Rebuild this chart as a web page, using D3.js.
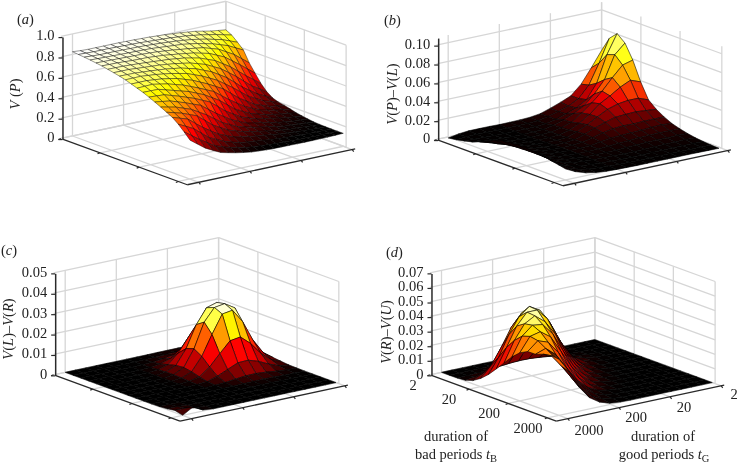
<!DOCTYPE html>
<html><head><meta charset="utf-8">
<script src="https://cdn.jsdelivr.net/npm/d3@7/dist/d3.min.js"></script>
<style>html,body{margin:0;padding:0;background:#fff}svg{display:block;font-family:"Liberation Serif",serif;filter:blur(.3px)}</style>
</head><body><svg id="c" width="738" height="466"></svg>
<script>
const tickDurations=[2,20,200,2000];
const grid21=[2,2.83,3.99,5.64,7.96,11.2,15.9,22.4,31.7,44.8,63.2,89.3,126,178,252,356,502,710,1002,1416,2000];
const grid16=[2,3.17,5.02,7.96,12.6,20,31.7,50.2,79.6,126,200,317,502,796,1262,2000];
const ticksA=[0,.2,.4,.6,.8,1];
const ticksB=[0,.02,.04,.06,.08,.1];
const ticksC=[0,.01,.02,.03,.04,.05];
const ticksD=[0,.01,.02,.03,.04,.05,.06,.07];
// V(P): one line per t_G (2 to 2000), values across t_B (2 to 2000)
const valuesA=[
[.74,.71,.66,.605,.50,.42,.34,.28,.24,.22,.21,.195,.18,.17,.16,.153,.15,.148,.147,.147,.147],
[.75,.728,.689,.642,.558,.478,.395,.326,.276,.243,.221,.205,.19,.177,.166,.158,.154,.15,.148,.146,.144],
[.76,.747,.718,.68,.615,.536,.45,.371,.312,.265,.232,.216,.199,.183,.172,.164,.158,.153,.149,.146,.142],
[.775,.761,.736,.705,.656,.59,.509,.432,.362,.305,.259,.232,.212,.197,.182,.17,.162,.156,.15,.146,.141],
[.79,.776,.755,.73,.698,.643,.568,.494,.412,.344,.286,.249,.225,.211,.191,.175,.167,.16,.152,.146,.14],
[.798,.786,.769,.747,.721,.676,.614,.548,.474,.402,.333,.283,.247,.224,.205,.189,.176,.166,.156,.148,.14],
[.807,.797,.783,.765,.745,.71,.661,.602,.536,.46,.38,.317,.269,.237,.22,.203,.185,.173,.16,.15,.14],
[.813,.803,.791,.777,.756,.728,.689,.639,.581,.511,.44,.366,.306,.262,.234,.215,.197,.183,.166,.152,.141],
[.82,.81,.80,.789,.767,.746,.718,.676,.626,.563,.50,.415,.344,.288,.249,.228,.21,.193,.172,.155,.142],
[.824,.814,.805,.794,.776,.757,.734,.699,.656,.60,.54,.471,.402,.333,.281,.248,.224,.202,.18,.16,.143],
[.829,.818,.811,.80,.786,.768,.75,.722,.687,.637,.58,.527,.46,.378,.314,.268,.239,.212,.188,.165,.145],
[.831,.822,.815,.806,.793,.777,.759,.735,.706,.665,.614,.56,.504,.438,.361,.304,.263,.226,.196,.171,.15],
[.834,.826,.819,.812,.801,.787,.769,.748,.726,.694,.648,.594,.548,.498,.408,.34,.287,.24,.205,.178,.155],
[.835,.828,.821,.814,.805,.792,.774,.757,.737,.71,.673,.624,.58,.531,.463,.393,.328,.27,.227,.194,.167],
[.837,.83,.823,.816,.809,.798,.78,.766,.748,.726,.698,.655,.612,.565,.519,.447,.369,.30,.25,.21,.18],
[.837,.832,.824,.817,.81,.799,.785,.771,.755,.737,.712,.676,.633,.592,.547,.49,.43,.348,.285,.235,.197],
[.837,.834,.826,.819,.812,.801,.79,.776,.762,.748,.726,.698,.655,.619,.576,.533,.49,.397,.32,.26,.215],
[.837,.834,.826,.821,.814,.805,.794,.781,.767,.755,.733,.712,.676,.642,.601,.56,.519,.454,.38,.307,.252],
[.837,.834,.826,.823,.816,.809,.798,.787,.773,.762,.741,.726,.698,.666,.626,.587,.548,.512,.44,.355,.29],
[.84,.837,.83,.825,.818,.81,.799,.787,.774,.761,.74,.723,.699,.67,.637,.603,.569,.536,.477,.407,.345],
[.846,.84,.835,.828,.82,.812,.80,.788,.775,.76,.74,.72,.70,.675,.648,.62,.59,.56,.515,.46,.40]];
// the next three: one line per t_B (2 to 2000), values across t_G (2000 down to 2)
const valuesB=[
[0,.002,.003,.003,.003,.0027,.0028,.003,.0035,.005,.0085,.0125,.017,.027,.042,.058],
[.0012,.002,.0023,.0021,.0021,.0021,.0021,.0023,.0028,.005,.008,.0115,.017,.029,.05,.074],
[.003,.0025,.0022,.0018,.0015,.0016,.0017,.0019,.0026,.005,.0085,.0125,.019,.034,.062,.082],
[.005,.0034,.0025,.0018,.0014,.0014,.0016,.002,.0042,.0075,.012,.018,.028,.041,.065,.075],
[.008,.0049,.0031,.002,.0017,.0015,.0018,.0023,.0046,.008,.0155,.024,.034,.046,.057,.06],
[.012,.0068,.004,.0023,.0017,.0014,.0017,.0023,.005,.010,.017,.026,.032,.039,.044,.04],
[.016,.0091,.0053,.003,.0023,.0019,.0021,.0027,.0063,.0115,.0174,.0232,.0265,.028,.028,.024],
[.018,.0103,.0059,.0034,.0026,.0021,.0024,.0033,.0068,.011,.0148,.0178,.0185,.019,.018,.017],
[.019,.0108,.0063,.0036,.0028,.0023,.0027,.0036,.0062,.009,.011,.0118,.0115,.012,.012,.012],
[.0195,.0111,.0064,.0037,.0029,.0024,.0027,.003,.0049,.0063,.0069,.0074,.0078,.0085,.009,.008],
[.0195,.0111,.0064,.0037,.0029,.0023,.0022,.0025,.0032,.0039,.0044,.0051,.0055,.0058,.0056,.0055],
[.019,.0108,.0063,.0036,.0027,.0021,.0019,.002,.002,.0025,.003,.0034,.0037,.0034,.004,.0035],
[.018,.0103,.0059,.0034,.0025,.0018,.0016,.0014,.001,.0012,.0015,.0017,.002,.0022,.0024,.002],
[.016,.0091,.0053,.003,.0021,.0015,.0012,.0009,.0007,.0008,.001,.0011,.0013,.0013,.0014,.001],
[.0145,.0083,.0048,.0028,.0018,.0012,.0009,.0006,.0005,.0006,.0007,.0007,.0007,.0007,.0006,.0004],
[.0127,.0075,.004,.0022,.0012,.0007,.0005,.0003,.0003,.0003,.0003,.0003,.0003,.0002,.0001,0]];
const valuesC=[
[0,0,0,0,0,0,0,0,0,.0001,.0001,.0001,.0001,0,0,0],
[0,0,0,0,0,0,0,.0001,.0002,.0004,.0006,.0006,.0004,.0002,.0001,0],
[0,0,0,0,0,0,.0001,.0003,.0008,.0016,.0024,.0025,.0019,.001,.0004,.0001],
[0,0,0,0,0,0,.0002,.0008,.0024,.006,.0089,.0094,.007,.0037,.0012,.0003],
[0,0,0,0,0,.0001,.0005,.0019,.0065,.0133,.0196,.0205,.0155,.0083,.0032,.0007],
[0,0,0,0,0,.0001,.0007,.0029,.0101,.0208,.028,.0295,.0242,.013,.005,.0011],
[0,0,0,0,0,.0001,.0008,.0033,.0114,.0234,.0295,.0303,.0272,.0146,.0058,.0013],
[0,0,0,0,0,.0001,.0006,.0026,.0091,.0188,.0277,.0285,.0218,.0118,.0046,.001],
[0,0,0,0,0,.0001,.0004,.0015,.0053,.0108,.016,.0168,.0126,.0067,.0026,.0006],
[0,0,0,0,0,0,.0002,.0006,.0022,.0044,.0066,.0068,.0052,.0028,.0009,.0002],
[0,0,0,0,0,0,0,.0002,.0005,.0011,.0016,.0017,.0013,.0007,.0003,.0001],
[0,0,0,0,0,0,0,0,.0001,.0002,.0003,.0004,.0003,.0001,.0001,0],
[.0001,.0001,0,0,0,0,0,0,0,0,.0001,.0001,0,0,0,0],
[.0004,.0004,.0001,0,0,0,0,0,0,0,0,0,0,0,0,0],
[.001,.001,.0002,0,0,0,0,0,0,0,0,0,0,0,0,0],
[0,.003,.0005,0,0,0,0,0,0,0,0,0,0,0,0,0]];
const valuesD=[
[0,0,0,0,0,0,0,0,0,0,0,0,0,0,0,0],
[0,0,0,.0001,.0002,.0004,.0005,.0005,.0005,.0003,.0001,0,0,0,0,0],
[.0001,.0002,.0005,.001,.0017,.0024,.0028,.0028,.0022,.0014,.0008,.0004,.0001,0,0,0],
[.0005,.0014,.0032,.0061,.0097,.0125,.0133,.0115,.0083,.0048,.0023,.001,.0003,.0001,0,0],
[.0022,.0056,.0116,.0199,.0279,.0321,.0304,.0236,.0151,.0079,.0033,.0012,.0004,.0001,0,0],
[.0056,.0128,.0238,.0363,.0445,.0455,.0397,.0276,.0157,.0073,.0029,.001,.0002,0,0,0],
[.0103,.0207,.0346,.0455,.051,.047,.037,.0229,.0117,.0048,.0016,.0005,.0001,0,0,0],
[.0161,.0293,.0425,.0505,.0505,.043,.0293,.0162,.0074,.0028,.0009,.0002,0,0,0,0],
[.0222,.0361,.046,.05,.0445,.0345,.0207,.0103,.0042,.0014,.0004,.0001,0,0,0,0],
[.0283,.041,.047,.046,.038,.025,.0133,.0059,.0022,.0007,.0002,0,0,0,0,0],
[.0331,.0428,.0445,.0395,.0283,.0166,.008,.0031,.001,.0003,.0001,0,0,0,0,0],
[.0359,.0418,.0393,.0307,.0195,.0103,.0045,.0015,.0005,.0001,0,0,0,0,0,0],
[.036,.0385,.0327,.0226,.0128,.0061,.0024,.0008,.0002,0,0,0,0,0,0,0],
[.038,.035,.0266,.0163,.0084,.0035,.0012,.0004,.0001,0,0,0,0,0,0,0],
[.039,.0304,.0207,.0114,.0052,.0019,.0006,.0002,0,0,0,0,0,0,0,0],
[.0385,.0285,.016,.0075,.003,.0008,.0002,0,0,0,0,0,0,0,0,0]];
const stopsA=[.15,.42,.69,.84];
const colorsA=["#000","#f00","#ff0","#fff"];
const stopsB=[0,.01,.02,.03,.041,.062,.082];
const colorsB=["#000","#400000","#900000","#f00000","#ff8000","#ff0","#ffffd8"];
const stopsC=[0,.0005,.0015,.004,.008,.0114,.0228,.0303];
const colorsC=["#000","#200000","#500000","#900000","#e00000","#f00","#ff0","#fff"];
const stopsD=[0,.004,.012,.026,.037,.044,.048,.051];
const colorsD=["#000","#500000","#b00000","#f01000","#ff8000","#ffe000","#ffff80","#fffff4"];

const svg=d3.select("#c");
const span=d3.scaleLog().domain([2,2000]).range([0,1]);
const depth=d3.scaleLog().domain([2000,2]).range([0,1]);
const GX0=72.5,GXS=117.5,GXQ=153.3,GY0=136,GYS=43,GYQ=-32.7,ZH=102;
const LIM_LOW=2.2,LIM_HIGH=3380,LIM_END=1.75;

function panel(o){
  const g=svg.append("g").attr("transform",`translate(${o.dx},${o.dy})`);
  const zs=d3.scaleLinear().domain([0,o.zmax]).range([0,ZH]);
  const P=(b,t,z)=>[GX0+GXS*span(b)+GXQ*depth(t),GY0+GYS*span(b)+GYQ*depth(t)-zs(z)];
  const line=(a,b,col,w)=>g.append("line").attr("x1",a[0]).attr("y1",a[1]).attr("x2",b[0]).attr("y2",b[1]).attr("stroke",col).attr("stroke-width",w);
  const GR="#d6d6d6",GW=1.3;
  const wallB=1.98;
  o.ticks.forEach(z=>{line(P(2,LIM_HIGH,z),P(2,wallB,z),GR,GW);line(P(2,wallB,z),P(2330,wallB,z),GR,GW);});
  tickDurations.forEach(t=>{line(P(2,t,0),P(2,t,o.zmax),GR,GW);});
  tickDurations.forEach(b=>{line(P(b===2000?2330:b,wallB,0),P(b===2000?2330:b,wallB,o.zmax),GR,GW);});
  tickDurations.forEach(t=>{line(P(2,t,0),P(LIM_HIGH,t,0),GR,GW);});
  tickDurations.forEach(b=>{line(P(b,wallB,0),P(b,LIM_HIGH,0),GR,GW);});
  const colorOf=d3.scaleLinear().domain(o.stops).range(o.colors).clamp(true);
  const V=o.values,B=o.gridB,T=o.gridT,sf=g.append("g").attr("transform",`translate(0,${o.surfDy||0})`);
  const cells=[];
  for(let i=0;i<B.length-1;i++)for(let k=T.length-2;k>=0;k--)cells.push({i,k});
  sf.selectAll("path").data(cells).join("path")
    .attr("d",c=>"M"+[[c.i,c.k],[c.i+1,c.k],[c.i+1,c.k+1],[c.i,c.k+1]].map(p=>P(B[p[0]],T[p[1]],V[p[0]][p[1]]).join(",")).join("L")+"Z")
    .attr("fill",c=>{
      const base=colorOf(d3.mean([V[c.i][c.k],V[c.i+1][c.k],V[c.i+1][c.k+1],V[c.i][c.k+1]]));
      const m=o.shade?o.shade(c.i,c.k):0;
      return m?d3.interpolateRgb(base,"#000")(m):base;})
    .attr("stroke","#000").attr("stroke-width",o.edgeW||.55).attr("stroke-linejoin","round");
  const AX="#2a2a2a";
  const L=P(LIM_LOW,LIM_HIGH,0),F=P(LIM_HIGH,LIM_HIGH,0),R=P(LIM_HIGH,LIM_END,0);
  line(L,F,AX,1.3);line(F,R,AX,1.3);
  tickDurations.forEach(b=>{const a=P(b,LIM_HIGH,0);line(a,[a[0]-2.5,a[1]+1],AX,1.2);});
  tickDurations.forEach(t=>{const a=P(LIM_HIGH,t,0);line(a,[a[0]+1.5,a[1]+2],AX,1.2);});
  const zAxis=d3.scaleLinear().domain([0,o.zmax]).range([L[1],L[1]-ZH]);
  const ax=g.append("g").attr("transform",`translate(${L[0]},0)`).call(
    d3.axisLeft(zAxis).tickValues(o.ticks).tickSize(4).tickSizeOuter(0).tickPadding(4).tickFormat(o.fmt));
  ax.select(".domain").attr("stroke",AX).attr("stroke-width",1.5);
  ax.selectAll(".tick line").attr("stroke",AX).attr("stroke-width",1.2);
  ax.selectAll("text").attr("font-family","'Liberation Serif',serif").attr("font-size",14.5).attr("fill","#222").attr("dy",".2em");
}
const fmt1=v=>v===0?"0":d3.format(".1f")(v), fmt2=v=>v===0?"0":d3.format(".2f")(v);
const rowsByTB=d3.transpose(valuesA).map(r=>r.slice().reverse());
const desc16=grid16.slice().reverse(),desc21=grid21.slice().reverse();
panel({dx:0,dy:0,zmax:1,ticks:ticksA,fmt:fmt1,values:rowsByTB,gridB:grid21,gridT:desc21,stops:stopsA,colors:colorsA,surfDy:2,edgeW:.42});
panel({dx:375.7,dy:1,zmax:.108,ticks:ticksB,fmt:fmt2,values:valuesB,gridB:grid16,gridT:desc16,stops:stopsB,colors:colorsB,surfDy:1,shade:(i,k)=>k<=4?.75:0});
panel({dx:-7.3,dy:236.3,zmax:.05,ticks:ticksC,fmt:fmt2,values:valuesC,gridB:grid16,gridT:desc16,stops:stopsC,colors:colorsC,surfDy:0});
panel({dx:369,dy:236.3,zmax:.07,ticks:ticksD,fmt:fmt2,values:valuesD,gridB:grid16,gridT:desc16,stops:stopsD,colors:colorsD,surfDy:0,shade:(i,k)=>(i>=12&&k>=1)?.6:0});

function rich(x,y,parts,opt={}){
  const t=svg.append("text").attr("font-size",opt.size||14.5).attr("fill","#222")
    .attr("text-anchor",opt.anchor||"middle");
  if(opt.rot)t.attr("transform",`translate(${x},${y}) rotate(${opt.rot})`);else t.attr("x",x).attr("y",y);
  parts.forEach(p=>{const s=t.append("tspan").text(p[0]);
    if(p[1]==="i")s.attr("font-style","italic");
    if(p[1]==="sub")s.attr("font-size",10.5).attr("dy",3);});
}
const panelNames=[["a",17,24],["b",384,25],["c",1,255],["d",386,257]];
panelNames.forEach(n=>rich(n[1],n[2],[["("],[n[0],"i"],[")"]],{anchor:"start",size:14.5}));
rich(20,94,[["V","i"],[" ("],["P","i"],[")"]],{rot:-90});
rich(397,94,[["V","i"],["("],["P","i"],[")\u2013"],["V","i"],["("],["L","i"],[")"]],{rot:-90});
rich(13,329,[["V","i"],["("],["L","i"],[")\u2013"],["V","i"],["("],["R","i"],[")"]],{rot:-90});
rich(391,332,[["V","i"],["("],["R","i"],[")\u2013"],["V","i"],["("],["U","i"],[")"]],{rot:-90});
const bLabels=[[413,390,"2"],[449,404,"20"],[489,418,"200"],[528,433,"2000"]];
const gLabels=[[589,435,"2000"],[636,422,"200"],[684,412,"20"],[734,399,"2"]];
bLabels.concat(gLabels).forEach(l=>rich(l[0],l[1],[[l[2]]]));
rich(456,441,[["duration of"]]);
rich(456,459,[["bad periods "],["t","i"],["B","sub"]]);
rich(663,441,[["duration of"]]);
rich(664,459,[["good periods "],["t","i"],["G","sub"]]);
</script></body></html>
